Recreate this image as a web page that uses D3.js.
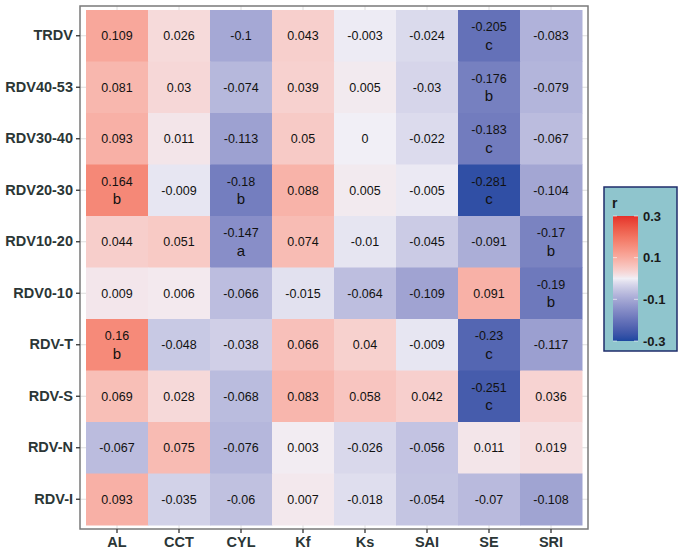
<!DOCTYPE html>
<html>
<head>
<meta charset="utf-8">
<script src="https://cdn.jsdelivr.net/npm/d3@7"></script>
<style>
  body { margin: 0; background: #fff; }
  text { font-family: "Liberation Sans", Arial, sans-serif; }
</style>
</head>
<body>
<div id="chart"></div>
<script>
const rows = ["TRDV", "RDV40-53", "RDV30-40", "RDV20-30", "RDV10-20", "RDV0-10", "RDV-T", "RDV-S", "RDV-N", "RDV-I"];
const cols = ["AL", "CCT", "CYL", "Kf", "Ks", "SAI", "SE", "SRI"];

const values = [
  [0.109, 0.026, -0.1, 0.043, -0.003, -0.024, -0.205, -0.083],
  [0.081, 0.03, -0.074, 0.039, 0.005, -0.03, -0.176, -0.079],
  [0.093, 0.011, -0.113, 0.05, 0, -0.022, -0.183, -0.067],
  [0.164, -0.009, -0.18, 0.088, 0.005, -0.005, -0.281, -0.104],
  [0.044, 0.051, -0.147, 0.074, -0.01, -0.045, -0.091, -0.17],
  [0.009, 0.006, -0.066, -0.015, -0.064, -0.109, 0.091, -0.19],
  [0.16, -0.048, -0.038, 0.066, 0.04, -0.009, -0.23, -0.117],
  [0.069, 0.028, -0.068, 0.083, 0.058, 0.042, -0.251, 0.036],
  [-0.067, 0.075, -0.076, 0.003, -0.026, -0.056, 0.011, 0.019],
  [0.093, -0.035, -0.06, 0.007, -0.018, -0.054, -0.07, -0.108]
];

const letters = [
  ["", "", "", "", "", "", "c", ""],
  ["", "", "", "", "", "", "b", ""],
  ["", "", "", "", "", "", "c", ""],
  ["b", "", "b", "", "", "", "c", ""],
  ["", "", "a", "", "", "", "", "b"],
  ["", "", "", "", "", "", "", "b"],
  ["b", "", "", "", "", "", "c", ""],
  ["", "", "", "", "", "", "c", ""],
  ["", "", "", "", "", "", "", ""],
  ["", "", "", "", "", "", "", ""]
];

const legendTicks = [0.3, 0.1, -0.1, -0.3];

const width = 681, height = 554;
const panel = { left: 80, right: 588, top: 6, bottom: 529 };

const cells = [];
rows.forEach((r, i) => cols.forEach((c, j) => {
  cells.push({ row: r, col: c, v: values[i][j], letter: letters[i][j] });
}));

const x = d3.scaleBand().domain(cols).range([86, 582]);
const y = d3.scaleBand().domain(rows).range([10, 525]);

const colorLab = d3.scaleLinear()
  .domain([-1, 0, 1])
  .range(["#1d47a0", "#f1eff6", "#e5302a"])
  .interpolate(d3.interpolateLab)
  .clamp(true);
// slightly stronger tint near zero, as in the original
const color = v => {
  const t = Math.max(-1, Math.min(1, v / 0.3));
  return colorLab(Math.sign(t) * Math.pow(Math.abs(t), 0.85));
};

const svg = d3.select("#chart")
  .append("svg")
    .attr("width", width)
    .attr("height", height);

// panel + grid
svg.append("rect")
  .attr("x", panel.left)
  .attr("y", panel.top)
  .attr("width", panel.right - panel.left)
  .attr("height", panel.bottom - panel.top)
  .attr("fill", "#fff");

const grid = svg.append("g").attr("stroke", "#dedede").attr("stroke-width", 1);
cols.forEach(c => {
  grid.append("line")
    .attr("x1", x(c) + x.bandwidth() / 2).attr("x2", x(c) + x.bandwidth() / 2)
    .attr("y1", panel.top).attr("y2", panel.bottom);
});
rows.forEach(r => {
  grid.append("line")
    .attr("y1", y(r) + y.bandwidth() / 2).attr("y2", y(r) + y.bandwidth() / 2)
    .attr("x1", panel.left).attr("x2", panel.right);
});

const cell = svg.selectAll(".cell")
  .data(cells)
  .enter().append("g")
    .attr("class", "cell")
    .attr("transform", d => `translate(${x(d.col)}, ${y(d.row)})`);

cell.append("rect")
  .attr("width", x.bandwidth() + 0.5)
  .attr("height", y.bandwidth() + 0.5)
  .attr("fill", d => color(d.v));

cell.append("text")
  .attr("x", x.bandwidth() / 2)
  .attr("y", d => y.bandwidth() / 2 + (d.letter ? -9 : 0))
  .attr("dy", "0.35em")
  .attr("text-anchor", "middle")
  .attr("font-size", 12.5)
  .attr("fill", "#111")
  .text(d => String(d.v));

cell.filter(d => d.letter).append("text")
  .attr("x", x.bandwidth() / 2)
  .attr("y", y.bandwidth() / 2 + 14)
  .attr("text-anchor", "middle")
  .attr("font-size", 15)
  .attr("fill", "#111")
  .text(d => d.letter);

svg.append("rect")
  .attr("x", panel.left)
  .attr("y", panel.top)
  .attr("width", panel.right - panel.left)
  .attr("height", panel.bottom - panel.top)
  .attr("fill", "none")
  .attr("stroke", "#7a7a7a")
  .attr("stroke-width", 1.5);

// axes
const xAxis = svg.append("g")
  .attr("transform", `translate(0, ${panel.bottom})`)
  .call(d3.axisBottom(x).tickSize(4).tickPadding(4));

const yAxis = svg.append("g")
  .attr("transform", `translate(${panel.left}, 0)`)
  .call(d3.axisLeft(y).tickSize(4).tickPadding(3));

[xAxis, yAxis].forEach(ax => {
  ax.select(".domain").remove();
  ax.selectAll(".tick line").attr("stroke", "#333").attr("stroke-width", 1.3);
  ax.selectAll(".tick text")
    .attr("font-family", "'Liberation Sans', Arial, sans-serif")
    .attr("font-size", 14.5)
    .attr("font-weight", "bold")
    .attr("fill", "#2b3636");
});

// legend
const legend = svg.append("g");
legend.append("rect")
  .attr("x", 604).attr("y", 187)
  .attr("width", 73).attr("height", 164)
  .attr("fill", "#8fc5cd")
  .attr("stroke", "#1f2c6b")
  .attr("stroke-width", 1.5);

legend.append("text")
  .attr("x", 612).attr("y", 208)
  .attr("font-size", 14)
  .attr("font-weight", "bold")
  .attr("fill", "#1a1a1a")
  .text("r");

const ly = d3.scaleLinear().domain([-0.3, 0.3]).range([341, 216]);

const grad = svg.append("defs").append("linearGradient")
  .attr("id", "rgrad")
  .attr("x1", 0).attr("y1", 1).attr("x2", 0).attr("y2", 0);
d3.range(0, 1.0001, 0.025).forEach(t => {
  grad.append("stop")
    .attr("offset", t)
    .attr("stop-color", color(-0.3 + 0.6 * t));
});

legend.append("rect")
  .attr("x", 613).attr("y", ly(0.3))
  .attr("width", 25).attr("height", ly(-0.3) - ly(0.3))
  .attr("fill", "url(#rgrad)");

legend.selectAll(".ltick")
  .data(legendTicks)
  .enter().append("path")
    .attr("d", d => `M613,${ly(d)}h4M634,${ly(d)}h4`)
    .attr("stroke", "#fff")
    .attr("stroke-opacity", 0.6)
    .attr("stroke-width", 1);

legend.selectAll(".lt")
  .data(legendTicks)
  .enter().append("text")
    .attr("x", 643)
    .attr("y", d => ly(d))
    .attr("dy", "0.35em")
    .attr("font-size", 13)
    .attr("font-weight", "bold")
    .attr("fill", "#1a1a1a")
    .text(d => d);
</script>
</body>
</html>
